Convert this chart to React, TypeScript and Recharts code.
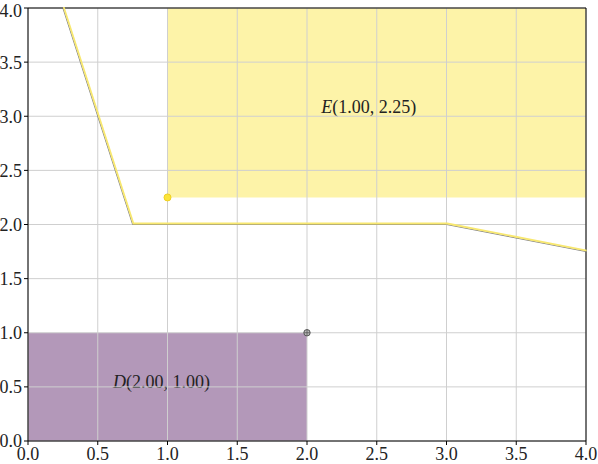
import React from "react";
import {
  ComposedChart,
  Line,
  Scatter,
  XAxis,
  YAxis,
  ReferenceArea,
  ReferenceLine,
} from "recharts";

const frontierX = [0.25, 0.75, 3, 4];
const frontierY = [4, 2, 2, 1.75];

const pointE = { name: "E", x: 1, y: 2.25 };
const pointD = { name: "D", x: 2, y: 1 };

const xTicks = [0, 0.5, 1, 1.5, 2, 2.5, 3, 3.5, 4];
const yTicks = [0, 0.5, 1, 1.5, 2, 2.5, 3, 3.5, 4];

const frontier = frontierX.map((x, i) => ({ x, y: frontierY[i] }));

const FONT = "'Liberation Serif', 'DejaVu Serif', serif";

const pointLabel = (p: { name: string; x: number; y: number }, dx: number, dy: number) =>
  (props: any) => {
    const vb = props.viewBox;
    const cx = vb.x + vb.width / 2 + dx;
    const cy = vb.y + vb.height / 2 + dy;
    return (
      <text x={cx} y={cy} textAnchor="middle" dominantBaseline="central"
        fontFamily={FONT} fontSize={18} fill="#222">
        <tspan fontStyle="italic">{p.name}</tspan>
        <tspan>{`(${p.x.toFixed(2)}, ${p.y.toFixed(2)})`}</tspan>
      </text>
    );
  };

const CrossDot = (props: any) => {
  const { cx, cy } = props;
  return (
    <g>
      <circle cx={cx} cy={cy} r={3.2} fill="#bbb" stroke="#555" strokeWidth={1} />
      <line x1={cx - 3} y1={cy} x2={cx + 3} y2={cy} stroke="#555" strokeWidth={0.8} />
      <line x1={cx} y1={cy - 3} x2={cx} y2={cy + 3} stroke="#555" strokeWidth={0.8} />
    </g>
  );
};

const YellowDot = (props: any) => {
  const { cx, cy } = props;
  return <circle cx={cx} cy={cy} r={3.5} fill="#fbe43a" stroke="#f0d020" strokeWidth={1} />;
};

export default function App() {
  return (
    <div style={{ position: "absolute", left: 0, top: 0, background: "#fff" }}>
      <ComposedChart
        width={598}
        height={464}
        margin={{ top: 8, right: 12, left: 0, bottom: 0 }}
      >
        <ReferenceArea x1={1} x2={4} y1={2.25} y2={4} fill="#fdf3a8" fillOpacity={1} stroke="none" />
        <ReferenceArea x1={0} x2={2} y1={0} y2={1} fill="#b398b9" fillOpacity={1} stroke="none" />
        {xTicks.map((t) => (
          <ReferenceLine key={`gx-${t}`} x={t} stroke="#cfcfcf" strokeWidth={1} />
        ))}
        {yTicks.map((t) => (
          <ReferenceLine key={`gy-${t}`} y={t} stroke="#cfcfcf" strokeWidth={1} />
        ))}
        <ReferenceArea x1={1} x2={4} y1={2.25} y2={4} fill="none" stroke="none"
          label={pointLabel(pointE, -8, 4)} />
        <ReferenceArea x1={0} x2={2} y1={0} y2={1} fill="none" stroke="none"
          label={pointLabel(pointD, -6, -5)} />
        <XAxis
          dataKey="x"
          type="number"
          domain={[0, 4]}
          ticks={xTicks}
          tickFormatter={(v: number) => v.toFixed(1)}
          height={23}
          stroke="#000"
          tickSize={4}
          tick={{ fontFamily: FONT, fontSize: 18, fill: "#222" }}
          allowDataOverflow
        />
        <YAxis
          dataKey="y"
          type="number"
          domain={[0, 4]}
          ticks={yTicks}
          tickFormatter={(v: number) => v.toFixed(1)}
          width={28}
          stroke="#000"
          tickSize={4}
          tick={{ fontFamily: FONT, fontSize: 18, fill: "#222" }}
          allowDataOverflow
        />
        <ReferenceLine y={4} stroke="#000" strokeWidth={1} />
        <ReferenceLine x={4} stroke="#000" strokeWidth={1} />
        <Line data={frontier} dataKey="y" type="linear" stroke="#666" strokeWidth={0.8}
          dot={false} isAnimationActive={false} />
        <Line data={frontier} dataKey="y" type="linear" stroke="#f8e870" strokeWidth={1.8}
          dot={false} isAnimationActive={false} style={{ transform: "translate(0.8px, -1px)" }} />
        <Scatter data={[pointE]} dataKey="y" shape={<YellowDot />} isAnimationActive={false} />
        <Scatter data={[pointD]} dataKey="y" shape={<CrossDot />} isAnimationActive={false} />
      </ComposedChart>
    </div>
  );
}
